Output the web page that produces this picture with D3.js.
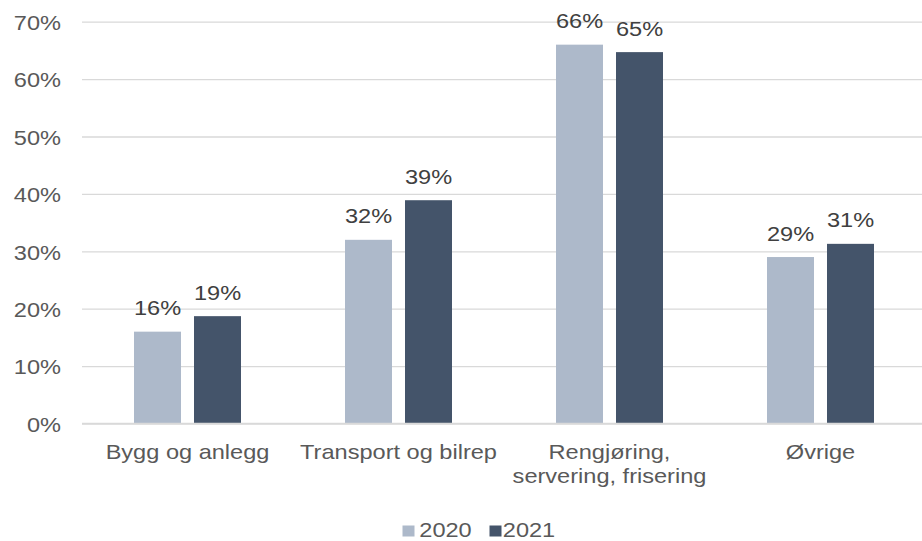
<!DOCTYPE html>
<html>
<head>
<meta charset="utf-8">
<script src="https://cdn.jsdelivr.net/npm/d3@7"></script>
<style>
  html, body { margin: 0; padding: 0; background: #fff; }
  svg { display: block; font-family: "Liberation Sans", Arial, sans-serif; }
</style>
</head>
<body>
<svg id="chart" width="922" height="541"></svg>
<script>
const categories = [["Bygg og anlegg"], ["Transport og bilrep"], ["Rengjøring,", "servering, frisering"], ["Øvrige"]];
const seriesNames = ["2020", "2021"];
const values2020 = [0.160, 0.320, 0.660, 0.290];
const values2021 = [0.187, 0.389, 0.647, 0.313];
const dataLabels2020 = ["16%", "32%", "66%", "29%"];
const dataLabels2021 = ["19%", "39%", "65%", "31%"];
const yTicks = [0, 0.1, 0.2, 0.3, 0.4, 0.5, 0.6, 0.7];
const colors = ["#adb9ca", "#44546a"];

const svg = d3.select("#chart");
const fontSize = 20.5;
const sx = 1.15; // horizontal stretch of text as in reference
const plotLeft = 82, plotRight = 926, plotTop = 21.7, plotBottom = 423.5;

const catKeys = categories.map(c => c.join(" "));
const x0 = d3.scaleBand().domain(catKeys).range([plotLeft, plotRight]).padding(0);
const groupW = 107;
const x1 = d3.scaleBand().domain(seriesNames)
  .range([x0.bandwidth() / 2 - groupW / 2, x0.bandwidth() / 2 + groupW / 2])
  .paddingInner(13 / 60).paddingOuter(0);
const y = d3.scaleLinear().domain([0, 0.7]).range([plotBottom, plotTop]);

function placeText(sel, x, yy) {
  return sel.attr("x", 0).attr("y", 0)
    .attr("transform", `translate(${x},${yy}) scale(${sx},1)`)
    .style("font-size", fontSize + "px");
}

// gridlines + y axis labels
const yAxis = d3.axisLeft(y).tickValues(yTicks).tickFormat(d3.format(".0%")).tickSize(0).tickPadding(0);
const gy = svg.append("g").attr("transform", `translate(${plotLeft},0)`).call(yAxis);
gy.select(".domain").remove();
gy.selectAll(".tick text")
  .attr("x", 0)
  .attr("dy", null)
  .attr("transform", `translate(-21,7.8) scale(${sx},1)`)
  .attr("fill", "#595959")
  .style("font-size", fontSize + "px")
  .style("font-family", "Liberation Sans, Arial, sans-serif");
gy.selectAll(".tick line")
  .attr("x2", plotRight - plotLeft)
  .attr("stroke", "#d9d9d9")
  .attr("stroke-width", 1.3);

// bars
const seriesData = [values2020, values2021];
const seriesLabels = [dataLabels2020, dataLabels2021];
seriesNames.forEach((s, si) => {
  const g = svg.append("g");
  g.selectAll("rect").data(seriesData[si]).join("rect")
    .attr("x", (d, i) => x0(catKeys[i]) + x1(s))
    .attr("y", d => y(d))
    .attr("width", x1.bandwidth())
    .attr("height", d => y(0) - y(d))
    .attr("fill", colors[si]);
  g.selectAll("text").data(seriesData[si]).join("text")
    .each(function(d, i) {
      placeText(d3.select(this), x0(catKeys[i]) + x1(s) + x1.bandwidth() / 2, y(d) - 16.5);
    })
    .attr("text-anchor", "middle")
    .attr("fill", "#404040")
    .text((d, i) => seriesLabels[si][i]);
});

// x axis line
svg.append("line")
  .attr("x1", plotLeft).attr("x2", plotRight)
  .attr("y1", y(0)).attr("y2", y(0))
  .attr("stroke", "#d9d9d9").attr("stroke-width", 1.3);

// category labels
const xl = svg.append("g");
categories.forEach((lines, i) => {
  const cx = x0(catKeys[i]) + x0.bandwidth() / 2;
  const t = placeText(xl.append("text"), cx, 459)
    .attr("text-anchor", "middle")
    .attr("fill", "#595959");
  lines.forEach((ln, j) => {
    t.append("tspan")
      .attr("x", 0)
      .attr("dy", j === 0 ? 0 : 24.5)
      .text(ln);
  });
});

// legend
const legend = svg.append("g");
const legendSwatchX = [402.5, 489.5];
const legendTextX = [419.3, 502.8];
seriesNames.forEach((s, si) => {
  legend.append("rect")
    .attr("x", legendSwatchX[si]).attr("y", 525.5)
    .attr("width", 12).attr("height", 11)
    .attr("fill", colors[si]);
  placeText(legend.append("text"), legendTextX[si], 536.6)
    .attr("fill", "#595959")
    .text(s);
});
</script>
</body>
</html>
